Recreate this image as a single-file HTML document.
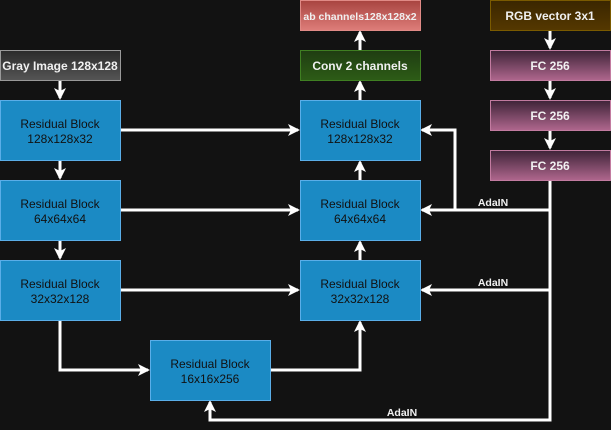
<!DOCTYPE html>
<html><head><meta charset="utf-8"><style>
html,body{margin:0;padding:0;background:#121212;}
svg{display:block;}
text{font-family:"Liberation Sans",Arial,sans-serif;}
</style></head><body>
<svg width="611" height="430" viewBox="0 0 611 430" xmlns="http://www.w3.org/2000/svg">
<defs>
<linearGradient id="gr" x1="0" y1="0" x2="0" y2="1"><stop offset="0" stop-color="#2b2b2b"/><stop offset="1" stop-color="#555"/></linearGradient>
<linearGradient id="rd" x1="0" y1="0" x2="0" y2="1"><stop offset="0" stop-color="#a84440"/><stop offset="1" stop-color="#de7e7a"/></linearGradient>
<linearGradient id="gn" x1="0" y1="0" x2="0" y2="1"><stop offset="0" stop-color="#1f3d12"/><stop offset="1" stop-color="#2d5c16"/></linearGradient>
<linearGradient id="fc" x1="0" y1="0" x2="0" y2="1"><stop offset="0" stop-color="#3e2438"/><stop offset="1" stop-color="#b0678e"/></linearGradient>
<linearGradient id="br" x1="0" y1="0" x2="0" y2="1"><stop offset="0" stop-color="#3a2600"/><stop offset="1" stop-color="#553800"/></linearGradient>
<marker id="a" viewBox="0 0 12 12" refX="10" refY="6" markerWidth="12" markerHeight="12" markerUnits="userSpaceOnUse" orient="auto"><path d="M0,0 L12,6 L0,12 L3,6 Z" fill="#fff"/></marker>
</defs>
<g stroke="#fff" stroke-width="3" fill="none" marker-end="url(#a)">
<path d="M60,80 V98"/>
<path d="M60,160 V178"/>
<path d="M60,240 V258"/>
<path d="M120,130 H298"/>
<path d="M120,210 H298"/>
<path d="M120,290 H298"/>
<path d="M60,320 V370 H148"/>
<path d="M270,370 H360 V322"/>
<path d="M360,260 V242"/>
<path d="M360,180 V162"/>
<path d="M360,100 V82"/>
<path d="M360,50 V32"/>
<path d="M550,30 V48"/>
<path d="M550,80 V98"/>
<path d="M550,130 V148"/>
<path d="M550,180 V210 H422"/>
<path d="M455,210 V130 H422"/>
<path d="M550,210 V290 H422"/>
<path d="M550,290 V420 H210 V402"/>
</g>
<g stroke="#5aaee8" stroke-width="1">
<rect x="0.5" y="100.5" width="120" height="60" fill="#1b8ac4"/>
<rect x="0.5" y="180.5" width="120" height="60" fill="#1b8ac4"/>
<rect x="0.5" y="260.5" width="120" height="60" fill="#1b8ac4"/>
<rect x="150.5" y="340.5" width="120" height="60" fill="#1b8ac4"/>
<rect x="300.5" y="100.5" width="120" height="60" fill="#1b8ac4"/>
<rect x="300.5" y="180.5" width="120" height="60" fill="#1b8ac4"/>
<rect x="300.5" y="260.5" width="120" height="60" fill="#1b8ac4"/>
</g>
<g font-size="12" fill="#111" text-anchor="middle">
<text x="60" y="128">Residual Block</text><text x="60" y="143">128x128x32</text>
<text x="60" y="208">Residual Block</text><text x="60" y="223">64x64x64</text>
<text x="60" y="288">Residual Block</text><text x="60" y="303">32x32x128</text>
<text x="210" y="368">Residual Block</text><text x="210" y="383">16x16x256</text>
<text x="360" y="128">Residual Block</text><text x="360" y="143">128x128x32</text>
<text x="360" y="208">Residual Block</text><text x="360" y="223">64x64x64</text>
<text x="360" y="288">Residual Block</text><text x="360" y="303">32x32x128</text>
</g>
<rect x="0.5" y="50.5" width="120" height="30" fill="url(#gr)" stroke="#999"/>
<rect x="300.5" y="0.5" width="120" height="30" fill="url(#rd)" stroke="#e08a86"/>
<rect x="300.5" y="50.5" width="120" height="30" fill="url(#gn)" stroke="#3f7f22"/>
<rect x="490.5" y="0.5" width="120" height="30" fill="url(#br)" stroke="#7a5a00"/>
<rect x="490.5" y="50.5" width="120" height="30" fill="url(#fc)" stroke="#c27ba0"/>
<rect x="490.5" y="100.5" width="120" height="30" fill="url(#fc)" stroke="#c27ba0"/>
<rect x="490.5" y="150.5" width="120" height="30" fill="url(#fc)" stroke="#c27ba0"/>
<g fill="#f0f0f0" text-anchor="middle" font-size="12" font-weight="bold">
<text x="60" y="70">Gray Image 128x128</text>
<text x="360" y="20" font-size="10.5">ab channels128x128x2</text>
<text x="360" y="70">Conv 2 channels</text>
<text x="550" y="20">RGB vector 3x1</text>
<text x="550" y="70">FC 256</text>
<text x="550" y="120">FC 256</text>
<text x="550" y="170">FC 256</text>
</g>
<g fill="#f0f0f0" font-size="10.5" font-weight="bold" text-anchor="middle">
<text x="493" y="206">AdaIN</text>
<text x="493" y="286">AdaIN</text>
<text x="402" y="416">AdaIN</text>
</g>
</svg>
</body></html>
